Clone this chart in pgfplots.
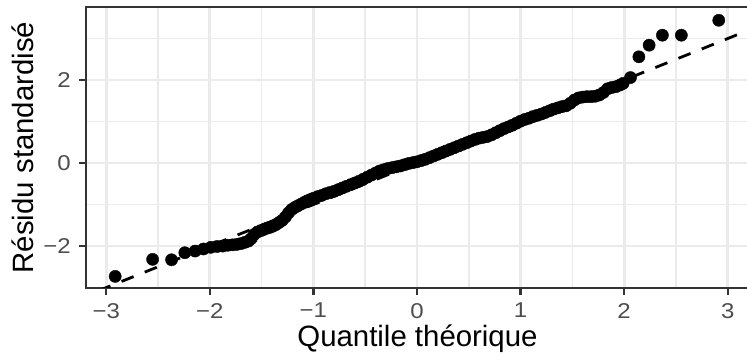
\documentclass[border=0pt]{standalone}
\usepackage{pgfplots}
\pgfplotsset{compat=1.18}
\usepackage{fontspec}
\setmainfont{Liberation Sans}
\newfontfamily\tickfont[FakeStretch=1.12]{Liberation Sans}
\definecolor{grey92}{HTML}{EBEBEB}
\definecolor{grey30}{HTML}{4D4D4D}
\definecolor{grey20}{HTML}{333333}
\begin{document}
\begin{tikzpicture}
\begin{axis}[
  at={(86bp,72bp)}, anchor=south west,
  scale only axis, width=663bp, height=281bp,
  xmin=-3.195, xmax=3.205, ymin=-3.01, ymax=3.76,
  xtick={-3,-2,-1,0,1,2,3}, xticklabels={−3,−2,−1,0,1,2,3},
  ytick={-2,0,2}, yticklabels={−2,0,2},
  minor xtick={-2.5,-1.5,-0.5,0.5,1.5,2.5}, minor ytick={-1,1,3},
  grid=both,
  major grid style={grey92, line width=2.8bp},
  minor grid style={grey92, line width=1.5bp},
  axis line style={grey20, line width=2.4bp},
  tick align=outside, tick pos=left,
  major tick length=7bp, minor tick length=0pt,
  major tick style={grey20, line width=2.4bp},
  ticklabel style={font=\tickfont\fontsize{21.5}{21.5}\selectfont, text=grey30, inner sep=0pt},
  xticklabel shift=8bp, yticklabel shift=8bp,
  label style={font=\fontsize{29.5}{30}\selectfont, text=black, inner sep=0pt},
  xlabel={Quantile théorique},
  ylabel={Résidu standardisé},
  xlabel style={at={(axis description cs:0.5,-0.2089)}, anchor=base},
  ylabel style={at={(axis description cs:-0.0799,0.5)}, anchor=base},
]
\addplot[only marks, mark=*, mark size=6.1bp, mark options={fill=black, draw=none}] coordinates {
(-2.913,-2.73) (-2.552,-2.32) (-2.369,-2.33) (-2.241,-2.16) (-2.142,-2.12) (-2.061,-2.07)
(-1.99,-2.03) (-1.93,-2.01) (-1.875,-2.00) (-1.826,-1.98) (-1.78,-1.97) (-1.74,-1.96)
(-1.70,-1.94) (-1.66,-1.91) (-1.628,-1.88) (-1.60,-1.82) (-1.57,-1.72) (-1.54,-1.66)
(-1.51,-1.63) (-1.48,-1.60) (-1.45,-1.57) (-1.42,-1.55) (-1.39,-1.52) (-1.36,-1.48)
(-1.33,-1.43) (-1.30,-1.38) (-1.27,-1.30) (-1.24,-1.20) (-1.21,-1.12) (-1.18,-1.07)
(-1.15,-1.03) (-1.12,-0.99) (-1.09,-0.95) (-1.06,-0.91) (-1.03,-0.88) (-1.00,-0.85)
(-0.96,-0.81) (-0.92,-0.78) (-0.88,-0.74) (-0.84,-0.71) (-0.80,-0.68) (-0.76,-0.64)
(-0.72,-0.60) (-0.68,-0.56) (-0.64,-0.52) (-0.60,-0.48) (-0.56,-0.44) (-0.52,-0.39)
(-0.48,-0.34) (-0.44,-0.29) (-0.40,-0.24) (-0.36,-0.19) (-0.32,-0.16) (-0.28,-0.13)
(-0.24,-0.11) (-0.20,-0.09) (-0.16,-0.07) (-0.12,-0.04) (-0.08,-0.01) (-0.04,0.01)
(0.00,0.03) (0.04,0.06) (0.08,0.09) (0.12,0.13) (0.16,0.17) (0.20,0.21)
(0.24,0.25) (0.28,0.29) (0.32,0.33) (0.36,0.37) (0.40,0.41) (0.44,0.45)
(0.48,0.49) (0.52,0.53) (0.56,0.57) (0.60,0.60) (0.64,0.62) (0.68,0.64)
(0.72,0.68) (0.76,0.73) (0.80,0.78) (0.84,0.83) (0.88,0.87) (0.92,0.91)
(0.96,0.96) (1.00,1.01) (1.04,1.05) (1.08,1.08) (1.12,1.12) (1.16,1.15)
(1.20,1.18) (1.24,1.22) (1.28,1.26) (1.32,1.30) (1.36,1.33) (1.40,1.36)
(1.44,1.38) (1.48,1.44) (1.52,1.52) (1.56,1.57) (1.60,1.59) (1.64,1.60)
(1.68,1.60) (1.72,1.61) (1.76,1.64) (1.80,1.70) (1.84,1.79) (1.88,1.82)
(1.92,1.84) (1.96,1.88) (1.99,1.92) (2.061,2.06) (2.142,2.56) (2.241,2.84)
(2.369,3.08) (2.552,3.08) (2.913,3.44)
};
\addplot[black, line width=2.8bp, dash pattern=on 13bp off 12bp] coordinates {(-3.3,-3.3) (3.3,3.3)};
\end{axis}
\pgfresetboundingbox
\path[use as bounding box] (0,0) rectangle (747bp,360bp);
\end{tikzpicture}
\end{document}
